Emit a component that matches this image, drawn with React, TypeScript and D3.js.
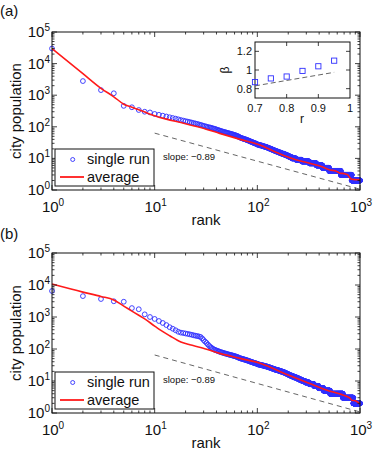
import React from 'react';
import * as d3 from 'd3';

// single run, panel (a): populations of ranks 1..100, then the tail as [population, number of cities]
const singleTopA = [
  30000, 2800, 1450, 1150, 460, 415, 340, 300, 285, 255,
  240, 225, 212, 200, 190, 181, 172, 164, 157, 151,
  146, 141, 136, 131, 127, 123, 119, 115, 111, 107,
  104, 101, 98, 96, 94, 92, 89, 87, 85, 82,
  80, 78, 76, 74, 72, 71, 69, 68, 67, 65,
  64, 63, 62, 61, 60, 59, 58, 57, 56, 55,
  54, 53, 52, 51, 50, 48, 47, 46, 45, 44,
  43, 43, 42, 41, 41, 40, 40, 39, 38, 38,
  37, 37, 36, 35, 35, 34, 34, 33, 33, 32,
  32, 31, 31, 30, 30, 30, 29, 29, 28, 28,
];
const singleTailPopA = [27, 26, 25, 24, 23, 22, 21, 20, 19, 18, 17, 16, 15, 14, 13, 12, 11, 10, 9, 8, 7, 6, 5, 4, 3, 2];
const singleTailCountA = [4, 5, 4, 5, 5, 4, 5, 5, 5, 6, 7, 8, 9, 11, 11, 10, 12, 22, 32, 50, 55, 55, 70, 150, 180, 170];

// single run, panel (b)
const singleTopB = [
  6500, 4500, 3650, 3100, 3000, 1900, 1750, 1210, 1000, 870,
  750, 650, 560, 480, 430, 385, 345, 325, 315, 305,
  296, 287, 278, 268, 260, 254, 247, 238, 215, 190,
  170, 155, 138, 125, 115, 108, 101, 96, 93, 90,
  87, 85, 82, 80, 78, 77, 75, 73, 72, 71,
  69, 68, 67, 66, 65, 64, 63, 62, 61, 60,
  59, 58, 57, 56, 55, 53, 52, 51, 51, 50,
  49, 49, 48, 47, 47, 46, 46, 45, 44, 44,
  43, 43, 42, 41, 41, 40, 40, 39, 39, 38,
  38, 37, 37, 36, 36, 36, 35, 35, 35, 34,
];
const singleTailPopB = [33, 32, 31, 30, 29, 28, 27, 26, 25, 24, 23, 22, 21, 20, 19, 18, 17, 16, 15, 14, 13, 12, 11, 10, 9, 8, 7, 6, 5, 4, 3, 2];
const singleTailCountB = [4, 4, 5, 4, 5, 4, 5, 4, 5, 5, 6, 8, 7, 8, 8, 7, 8, 7, 10, 12, 14, 15, 17, 20, 28, 35, 40, 45, 70, 170, 180, 140];

// averages
const avgRankA = [1, 2, 3, 4, 5, 6, 7, 8, 10, 13, 18, 28, 43, 68, 106, 150, 207, 324, 420, 510, 580, 640, 700, 760, 800, 830, 1000];
const averageA = [30000, 4800, 1650, 890, 520, 417, 345, 293, 225, 175, 136, 95, 62, 40, 26.5, 16, 10.5, 7, 5.5, 4.3, 4, 3.4, 3.3, 3, 2.4, 2.2, 2.1];
const avgRankB = [1, 2, 3, 4, 5, 6, 7, 8, 10, 11, 14, 18, 22, 28, 43, 68, 106, 200, 320, 500, 640, 800, 830, 900, 1000];
const averageB = [10700, 6000, 4400, 3400, 2190, 1530, 1130, 870, 520, 420, 260, 165, 135, 112, 73, 51, 36, 15.4, 8.5, 4.9, 3.9, 2.9, 2.5, 2.4, 1.9];

// slope guide line
const slopeRank = [10, 1000];
const slopeA = [63, 1.06];
const slopeB = [65, 1.08];

// inset
const insetR = [0.7, 0.75, 0.8, 0.85, 0.9, 0.95];
const insetBeta = [0.87, 0.91, 0.93, 0.99, 1.04, 1.1];
const insetFitR = [0.7, 0.95];
const insetFitBeta = [0.83, 0.975];
const insetRTicks = [0.7, 0.8, 0.9, 1];
const insetBetaTicks = [0.8, 1, 1.2];

const rankTickExp = [0, 1, 2, 3];
const popTickExp = [0, 1, 2, 3, 4, 5];

const FONT = "'Liberation Sans', Arial, Helvetica, sans-serif";
const BLUE = '#2f2fff';

function expand(top: number[], pops: number[], counts: number[]) {
  const vals = top.slice();
  pops.forEach((p, i) => {
    for (let k = 0; k < counts[i]; k++) vals.push(p);
  });
  return vals.map((v, i) => [i + 1, v] as [number, number]);
}

function Inset() {
  const l = 255, r = 350, t = 42, b = 98;
  const x = d3.scaleLinear().domain([0.7, 1]).range([l, r]);
  const y = d3.scaleLinear().domain([0.7, 1.3]).range([b, t]);
  const fit = d3.line<number>().x((d) => x(d)).y((_, i) => y(insetFitBeta[i]));
  let ticks = '';
  [0.8, 0.9].forEach((v) => { ticks += `M${x(v)},${b}v-4M${x(v)},${t}v4`; });
  insetBetaTicks.forEach((v) => { ticks += `M${l},${y(v)}h4M${r},${y(v)}h-4`; });
  return (
    <g fontFamily={FONT}>
      <rect x={l} y={t} width={r - l} height={b - t} fill="white" stroke="#111" strokeWidth={1} />
      <path d={ticks} stroke="#111" strokeWidth={0.8} />
      <path d={fit(insetFitR) || ''} fill="none" stroke="#555" strokeWidth={0.9} strokeDasharray="5,3" />
      {insetR.map((rv, i) => (
        <rect key={i} x={x(rv) - 2.6} y={y(insetBeta[i]) - 2.6} width={5.2} height={5.2}
          fill="none" stroke={BLUE} strokeWidth={0.9} />
      ))}
      {insetRTicks.map((v) => (
        <text key={v} x={x(v)} y={112} fontSize={11} textAnchor="middle">{String(v)}</text>
      ))}
      {insetBetaTicks.map((v) => (
        <text key={v} x={252} y={y(v) + 4} fontSize={11} textAnchor="end">{String(v)}</text>
      ))}
      <text transform="translate(229,70) rotate(-90)" fontSize={12} textAnchor="middle">β</text>
      <text x={302} y={123} fontSize={12} textAnchor="middle">r</text>
    </g>
  );
}

type PanelProps = {
  top: number; bottom: number; tag: string; tagY: number; id: string;
  single: [number, number][]; avgR: number[]; avg: number[]; slope: number[]; inset?: boolean;
};

function Panel({ top, bottom, tag, tagY, id, single, avgR, avg, slope, inset }: PanelProps) {
  const left = 52, right = 360;
  const x = d3.scaleLog().domain([1, 1000]).range([left, right]);
  const y = d3.scaleLog().domain([1, 1e5]).range([bottom, top]);
  const line = d3.line<[number, number]>().x((d) => x(d[0])).y((d) => y(d[1])).curve(d3.curveMonotoneX);
  const avgPts = avgR.map((r, i) => [r, avg[i]] as [number, number]);
  const slopePts = slopeRank.map((r, i) => [r, slope[i]] as [number, number]);
  const straight = d3.line<[number, number]>().x((d) => x(d[0])).y((d) => y(d[1]));

  const maj = 5, mnr = 2.5;
  let ticks = '';
  rankTickExp.forEach((e) => {
    const v = Math.pow(10, e);
    const px = x(v);
    ticks += `M${px},${bottom}v${-maj}M${px},${top}v${maj}`;
    if (e < 3) for (let k = 2; k < 10; k++) {
      const q = x(k * v);
      ticks += `M${q},${bottom}v${-mnr}M${q},${top}v${mnr}`;
    }
  });
  popTickExp.forEach((e) => {
    const v = Math.pow(10, e);
    const py = y(v);
    ticks += `M${left},${py}h${maj}M${right},${py}h${-maj}`;
    if (e < 5) for (let k = 2; k < 10; k++) {
      const q = y(k * v);
      ticks += `M${left},${q}h${mnr}M${right},${q}h${-mnr}`;
    }
  });

  return (
    <g fontFamily={FONT} fill="#111">
      <defs>
        <clipPath id={id}>
          <rect x={left} y={top - 3} width={right - left + 4} height={bottom - top + 3} />
        </clipPath>
      </defs>
      <text x={0} y={tagY} fontSize={15}>{tag}</text>
      <g clipPath={`url(#${id})`}>
        <path d={straight(slopePts) || ''} fill="none" stroke="#555" strokeWidth={0.9} strokeDasharray="5,4" />
      </g>
      {single.map((d, i) => (
        <circle key={i} cx={x(d[0])} cy={y(d[1])} r={2.4} fill="none" stroke={BLUE} strokeWidth={0.9} />
      ))}
      <path d={line(avgPts) || ''} fill="none" stroke="#ff1a1a" strokeWidth={1.6} />
      <rect x={left} y={top} width={right - left} height={bottom - top} fill="none" stroke="#111" strokeWidth={1} />
      <path d={ticks} stroke="#111" strokeWidth={0.8} fill="none" />
      {popTickExp.map((e) => (
        <text key={e} x={50} y={y(Math.pow(10, e)) + 5} fontSize={15} textAnchor="end">
          10<tspan dy={-6} fontSize={10}>{e}</tspan>
        </text>
      ))}
      {rankTickExp.map((e) => (
        <text key={e} x={x(Math.pow(10, e)) + 1} y={bottom + 21.5} fontSize={15} textAnchor="middle">
          10<tspan dy={-6} fontSize={10}>{e}</tspan>
        </text>
      ))}
      <text transform={`translate(21,${(top + bottom) / 2}) rotate(-90)`} fontSize={15} textAnchor="middle">
        city population
      </text>
      <text x={206} y={bottom + 35} fontSize={15} textAnchor="middle">rank</text>
      <text x={163} y={bottom - 30} fontSize={9.5}>slope: −0.89</text>
      <rect x={55} y={bottom - 41} width={99} height={37} fill="white" stroke="#111" strokeWidth={1} />
      <circle cx={72.7} cy={bottom - 30.5} r={2} fill="none" stroke={BLUE} strokeWidth={0.9} />
      <text x={87} y={bottom - 26} fontSize={14.5}>single run</text>
      <line x1={60} x2={84} y1={bottom - 13} y2={bottom - 13} stroke="#ff1a1a" strokeWidth={1.8} />
      <text x={87} y={bottom - 8} fontSize={14.5}>average</text>
      {inset ? <Inset /> : null}
    </g>
  );
}

export default function App() {
  const singleA = expand(singleTopA, singleTailPopA, singleTailCountA);
  const singleB = expand(singleTopB, singleTailPopB, singleTailCountB);
  return (
    <svg width={374} height={455} viewBox="0 0 374 455"
      style={{ position: 'absolute', left: 0, top: 0, background: 'white' }}>
      <Panel top={32} bottom={190} tag="(a)" tagY={16} id="clipA"
        single={singleA} avgR={avgRankA} avg={averageA} slope={slopeA} inset />
      <Panel top={253} bottom={413} tag="(b)" tagY={239} id="clipB"
        single={singleB} avgR={avgRankB} avg={averageB} slope={slopeB} />
    </svg>
  );
}
